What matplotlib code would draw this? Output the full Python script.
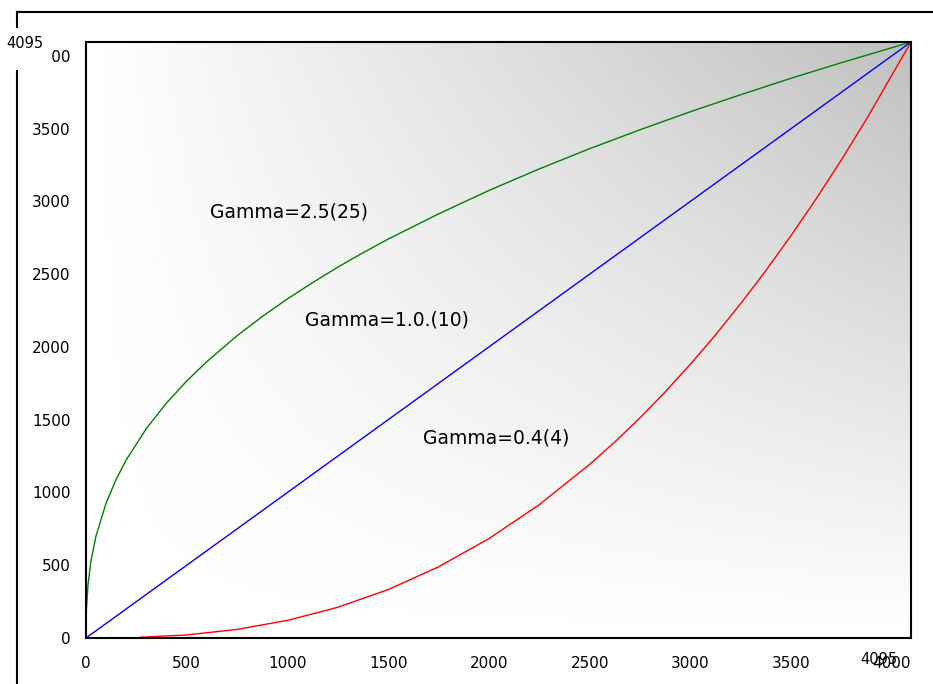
import matplotlib
matplotlib.use("Agg")
import matplotlib.pyplot as plt
from matplotlib.patches import Rectangle
import numpy as np

# Input code (0..4095) against output code for three gamma settings
gamma25_x = [0, 2, 10, 25, 50, 100, 150, 200, 300, 400, 500, 600, 750, 875, 1000,
             1125, 1250, 1375, 1500, 1750, 2000, 2250, 2500, 2750, 3000, 3250,
             3500, 3750, 4095]
gamma25_y = [0, 194, 369, 533, 703, 928, 1091, 1224, 1440, 1615, 1766, 1899, 2077,
             2209, 2330, 2442, 2548, 2647, 2741, 2914, 3075, 3223, 3362, 3492,
             3616, 3733, 3846, 3953, 4095]

gamma10_x = [0, 4095]
gamma10_y = [0, 4095]

gamma04_x = [270, 500, 750, 1000, 1250, 1500, 1750, 2000, 2250, 2500, 2625, 2750,
             2875, 3000, 3125, 3250, 3375, 3500, 3625, 3750, 3875, 4095]
gamma04_y = [5, 21, 59, 121, 211, 333, 489, 683, 916, 1193, 1347, 1513,
             1691, 1881, 2083, 2298, 2525, 2766, 3019, 3286, 3567, 4095]

ticks = [0, 500, 1000, 1500, 2000, 2500, 3000, 3500, 4000]
full_scale = 4095

fig = plt.figure(figsize=(9.33, 6.84), dpi=100)
ax = fig.add_axes([86 / 933, 1 - 638 / 684, 825 / 933, 596 / 684])

# grey shading that darkens towards the top right corner
u = np.linspace(0, 1, 300)
U, V = np.meshgrid(u, u)
shade = 1 - 0.25 * U * V
ax.imshow(shade, cmap="gray", vmin=0, vmax=1, origin="lower",
          extent=[0, full_scale, 0, full_scale], aspect="auto", zorder=0)

ax.plot(gamma25_x, gamma25_y, color="green", lw=1)
ax.plot(gamma10_x, gamma10_y, color="blue", lw=1)
ax.plot(gamma04_x, gamma04_y, color="red", lw=1)

ax.text(615, 2927, "Gamma=2.5(25)", fontsize=13.5, va="center")
ax.text(1087, 2185, "Gamma=1.0.(10)", fontsize=13.5, va="center")
ax.text(1673, 1374, "Gamma=0.4(4)", fontsize=13.5, va="center")

ax.set_xlim(0, full_scale)
ax.set_ylim(0, full_scale)
ax.set_xticks(ticks)
ax.set_yticks(ticks)
ax.tick_params(length=0, labelsize=11)
ax.tick_params(axis="x", pad=13)
ax.tick_params(axis="y", pad=11)
for s in ax.spines.values():
    s.set_linewidth(1.5)

# outer frame
fig.add_artist(plt.Line2D([17 / 933, 1], [1 - 12 / 684] * 2, color="black", lw=1.5))
fig.add_artist(plt.Line2D([17 / 933] * 2, [0, 1 - 12 / 684], color="black", lw=1.5))

# full-scale labels; the top one sits on a white patch over the frame line
fig.add_artist(Rectangle((0, 1 - 70 / 684), 52 / 933, 42 / 684, transform=fig.transFigure,
                         facecolor="white", edgecolor="none", zorder=4))
fig.text(25 / 933, 1 - 43 / 684, str(full_scale), fontsize=10.5, ha="center", va="center",
         zorder=5)
fig.text(879 / 933, 1 - 660 / 684, str(full_scale), fontsize=10.5, ha="center", va="center")

fig.savefig("out.png", dpi=100)
